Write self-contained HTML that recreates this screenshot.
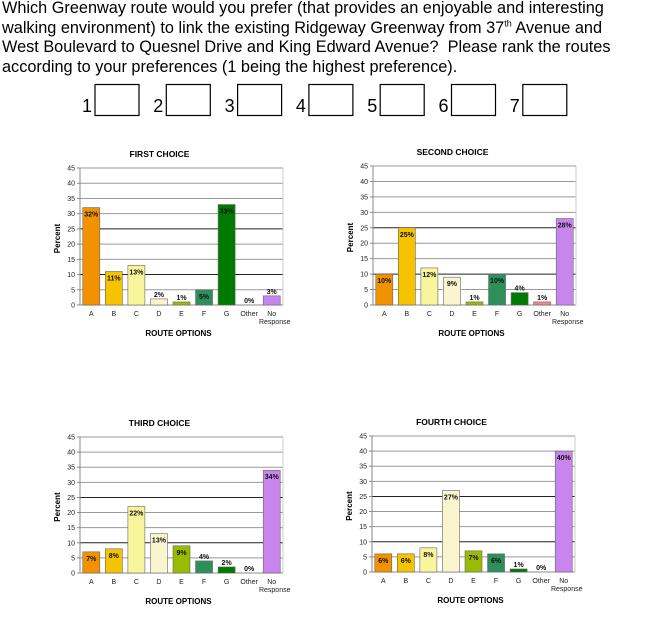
<!DOCTYPE html>
<html><head><meta charset="utf-8"><style>
body{margin:0;background:#fff;width:648px;height:620px;overflow:hidden;font-family:"Liberation Sans",Arial,sans-serif;}
#q{position:absolute;left:2px;top:-1px;font-size:16.3px;line-height:19.6px;color:#000;white-space:nowrap}
sup{font-size:9px;line-height:0}
</style></head><body>
<div id="q">Which Greenway route would you prefer (that provides an enjoyable and interesting<br>walking environment) to link the existing Ridgeway Greenway from 37<sup>th</sup> Avenue and<br>West Boulevard to Quesnel Drive and King Edward Avenue?&nbsp; Please rank the routes<br>according to your preferences (1 being the highest preference).</div>
<svg id="s" width="648" height="620" style="position:absolute;left:0;top:0" xmlns="http://www.w3.org/2000/svg" font-family="Liberation Sans, Arial, sans-serif"></svg>
<script>
var s='';
for(var i=0;i<7;i++){var bx=95+i*71.3;
s+='<text x="'+(bx-8)+'" y="112" font-size="18" text-anchor="middle">'+(i+1)+'</text>';
s+='<rect x="'+bx+'" y="84.5" width="44" height="31" fill="#fff" stroke="#000" stroke-width="1.2"/>';}
var cols=['#f39200','#f6c300','#f9f59c','#f9f6cf','#9bbb00','#2f8f5b','#007a00','#f08a8a','#c985ee'];
var cats=['A','B','C','D','E','F','G','Other','No'];
var charts=[
{t:'FIRST CHOICE',x0:80,x1:283,yt:168,yb:305,d:[32,11,13,2,1,5,33,0,3]},
{t:'SECOND CHOICE',x0:373,x1:576,yt:166,yb:305,d:[10,25,12,9,1,10,4,1,28]},
{t:'THIRD CHOICE',x0:80,x1:283,yt:437,yb:573,d:[7,8,22,13,9,4,2,0,34]},
{t:'FOURTH CHOICE',x0:372,x1:575,yt:436,yb:572,d:[6,6,8,27,7,6,1,0,40]}];
charts.forEach(function(c){
var h=c.yb-c.yt,k=h/45,w=(c.x1-c.x0)/9,cx=(c.x0+c.x1)/2;
for(var v=0;v<=45;v+=5){var y=c.yb-v*k;
if(v>0)s+='<line x1="'+c.x0+'" x2="'+c.x1+'" y1="'+y+'" y2="'+y+'" stroke="'+((v==25||v==10)?'#222':'#999')+'" stroke-width="1"/>';
s+='<line x1="'+(c.x0-3)+'" x2="'+c.x0+'" y1="'+y+'" y2="'+y+'" stroke="#888"/>';
s+='<text x="'+(c.x0-5)+'" y="'+(y+2.5)+'" font-size="7" text-anchor="end" fill="#222">'+v+'</text>';}
s+='<line x1="'+c.x0+'" x2="'+c.x0+'" y1="'+c.yt+'" y2="'+c.yb+'" stroke="#888"/>';
s+='<line x1="'+c.x0+'" x2="'+c.x1+'" y1="'+c.yb+'" y2="'+c.yb+'" stroke="#888"/>';
s+='<line x1="'+c.x1+'" x2="'+c.x1+'" y1="'+c.yt+'" y2="'+c.yb+'" stroke="#ccc"/>';
c.d.forEach(function(v,i){var m=c.x0+(i+0.5)*w,bh=v*k;
if(v>0)s+='<rect x="'+(m-8.5)+'" y="'+(c.yb-bh)+'" width="17" height="'+bh+'" fill="'+cols[i]+'" stroke="#666" stroke-width="0.6"/>';
var ly=v>=5?c.yb-bh+9:c.yb-bh-2;
s+='<text x="'+m+'" y="'+ly+'" font-size="7" font-weight="bold" text-anchor="middle" fill="#111">'+v+'%</text>';
s+='<text x="'+m+'" y="'+(c.yb+11)+'" font-size="7" text-anchor="middle" fill="#222">'+cats[i]+'</text>';
if(i==8)s+='<text x="'+(m+3)+'" y="'+(c.yb+19)+'" font-size="7" text-anchor="middle" fill="#222">Response</text>';});
s+='<text x="'+(cx-22)+'" y="'+(c.yt-11)+'" font-size="8.5" font-weight="bold" text-anchor="middle">'+c.t+'</text>';
s+='<text x="'+(cx-3)+'" y="'+(c.yb+31)+'" font-size="8" font-weight="bold" text-anchor="middle">ROUTE OPTIONS</text>';
var py=(c.yt+c.yb)/2+2;
s+='<text x="'+(c.x0-20)+'" y="'+py+'" font-size="8" font-weight="bold" text-anchor="middle" transform="rotate(-90 '+(c.x0-20)+' '+py+')">Percent</text>';
});
document.getElementById('s').innerHTML=s;
</script>
</body></html>
